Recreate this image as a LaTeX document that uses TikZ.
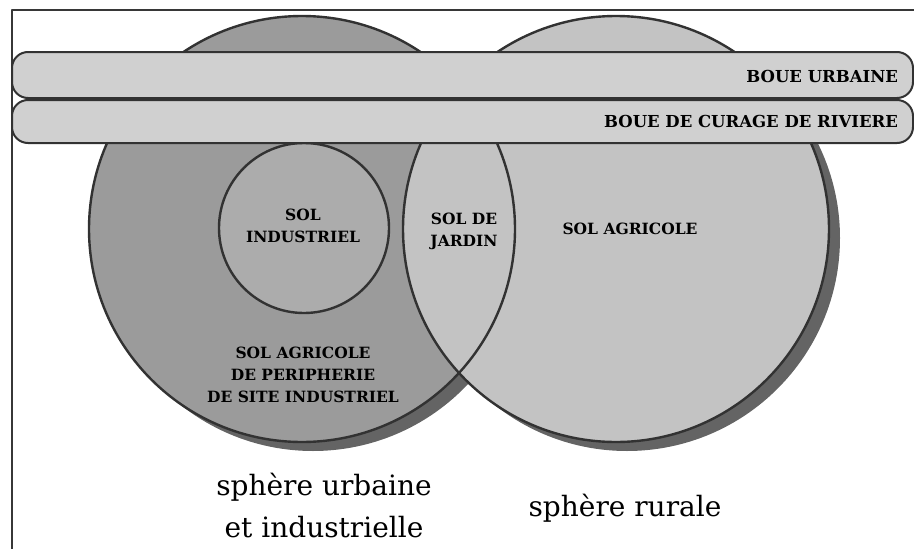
\documentclass[tikz,border=0pt]{standalone}
\usepackage{fontspec}
\setmainfont{DejaVu Serif}
\usepackage{xcolor}
\usepackage{tikz}

\begin{document}
\begin{tikzpicture}[x={(1pt,0pt)},y={(0pt,-1pt)},line join=round,
  every node/.style={inner sep=0pt, outer sep=0pt, align=center, font=\bfseries\fontsize{15.5}{22}\selectfont},
  outline/.style={draw={rgb,255:red,50;green,50;blue,50}, line width=2.4pt},
  band/.style={outline, line width=2pt, rounded corners=16pt, fill={rgb,255:red,208;green,208;blue,208}},
  bandtext/.style={anchor=east, font=\bfseries\fontsize{16.5}{20}\selectfont},
  sphere/.style={font=\fontsize{28}{42}\selectfont}]
\useasboundingbox (0,0) rectangle (914,549);
% frame
\draw[line width=1.6pt,color={rgb,255:red,55;green,55;blue,55}] (914,10) -- (12,10) -- (12,549);
% shadows
\fill[fill={rgb,255:red,100;green,100;blue,100}] (313,238) circle (213);
\fill[fill={rgb,255:red,100;green,100;blue,100}] (627,238) circle (213);
% the two spheres
\fill[fill={rgb,255:red,155;green,155;blue,155}] (302,229) circle (213);
\fill[fill={rgb,255:red,195;green,195;blue,195}] (616,229) circle (213);
\draw[outline] (302,229) circle (213);
\draw[outline] (616,229) circle (213);
\draw[outline,fill={rgb,255:red,172;green,172;blue,172}] (304,228) circle (85);
% sludge bands
\draw[band] (12,52) rectangle (913,98);
\draw[band] (12,100) rectangle (913,143);
\node[bandtext] (urbaine) at (898,76) {BOUE URBAINE};
\node[bandtext] (curage) at (898,121) {BOUE DE CURAGE DE RIVIERE};
% soils
\node (industriel) at (303,226) {SOL\\INDUSTRIEL};
\node (jardin) at (464,231) {SOL DE\\JARDIN};
\node (agricole) at (630,229) {SOL AGRICOLE};
\node (peripherie) at (303,375) {SOL AGRICOLE\\DE PERIPHERIE\\DE SITE INDUSTRIEL};
% spheres
\node[sphere] (urbain) at (324,506) {sphère urbaine\\et industrielle};
\node[sphere] (rural) at (625,508) {sphère rurale};
\end{tikzpicture}
\end{document}
